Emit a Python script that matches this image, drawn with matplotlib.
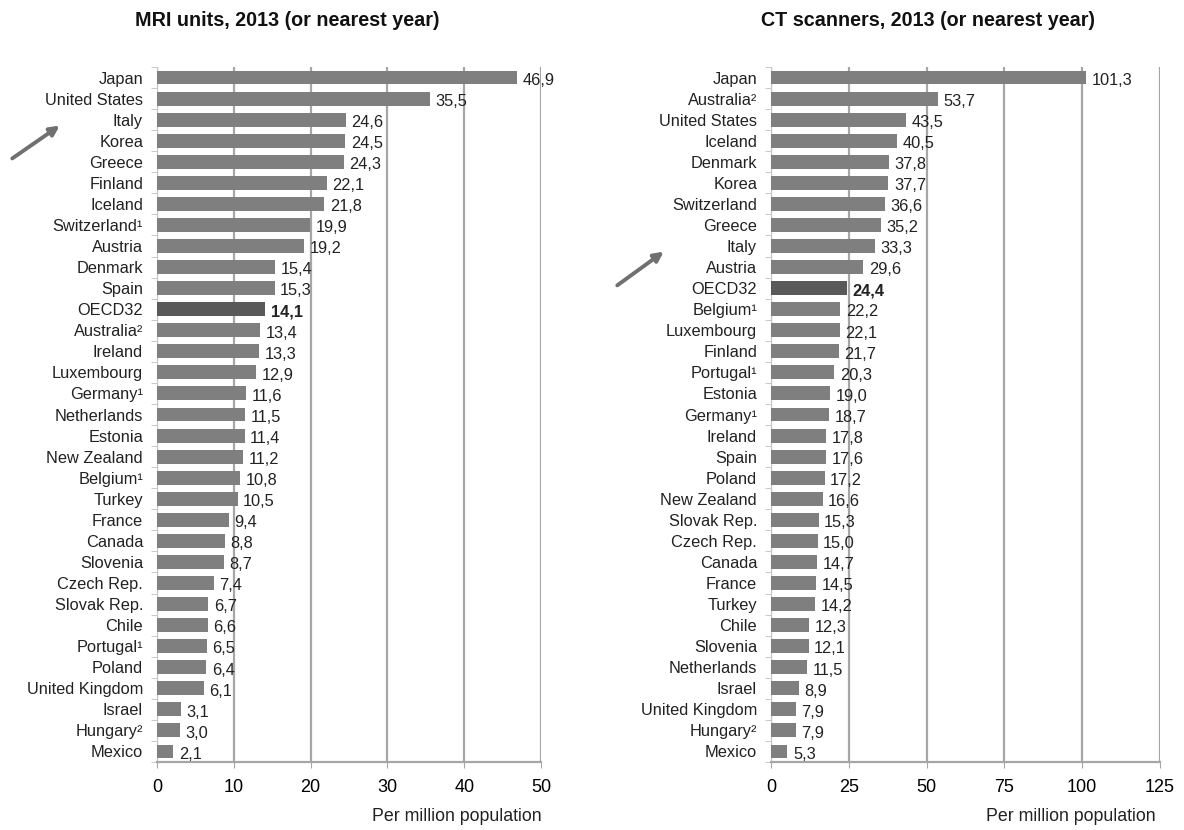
import matplotlib
matplotlib.use('Agg')
import matplotlib.pyplot as plt
from matplotlib.patches import FancyArrowPatch

plt.rcParams['font.family'] = ['Liberation Sans', 'DejaVu Sans']

# ======================
# Data
# ======================
mri_countries = ['Japan', 'United States', 'Italy', 'Korea', 'Greece', 'Finland', 'Iceland',
                 'Switzerland¹', 'Austria', 'Denmark', 'Spain', 'OECD32', 'Australia²', 'Ireland',
                 'Luxembourg', 'Germany¹', 'Netherlands', 'Estonia', 'New Zealand', 'Belgium¹',
                 'Turkey', 'France', 'Canada', 'Slovenia', 'Czech Rep.', 'Slovak Rep.', 'Chile',
                 'Portugal¹', 'Poland', 'United Kingdom', 'Israel', 'Hungary²', 'Mexico']
mri_values = [46.9, 35.5, 24.6, 24.5, 24.3, 22.1, 21.8, 19.9, 19.2, 15.4, 15.3, 14.1, 13.4, 13.3,
              12.9, 11.6, 11.5, 11.4, 11.2, 10.8, 10.5, 9.4, 8.8, 8.7, 7.4, 6.7, 6.6, 6.5, 6.4,
              6.1, 3.1, 3.0, 2.1]

ct_countries = ['Japan', 'Australia²', 'United States', 'Iceland', 'Denmark', 'Korea', 'Switzerland',
                'Greece', 'Italy', 'Austria', 'OECD32', 'Belgium¹', 'Luxembourg', 'Finland',
                'Portugal¹', 'Estonia', 'Germany¹', 'Ireland', 'Spain', 'Poland', 'New Zealand',
                'Slovak Rep.', 'Czech Rep.', 'Canada', 'France', 'Turkey', 'Chile', 'Slovenia',
                'Netherlands', 'Israel', 'United Kingdom', 'Hungary²', 'Mexico']
ct_values = [101.3, 53.7, 43.5, 40.5, 37.8, 37.7, 36.6, 35.2, 33.3, 29.6, 24.4, 22.2, 22.1, 21.7,
             20.3, 19.0, 18.7, 17.8, 17.6, 17.2, 16.6, 15.3, 15.0, 14.7, 14.5, 14.2, 12.3, 12.1,
             11.5, 8.9, 7.9, 7.9, 5.3]

mri_ticks = [0, 10, 20, 30, 40, 50]
ct_ticks = [0, 25, 50, 75, 100, 125]

bar_color = '#7f7f7f'
oecd_color = '#595959'
grid_color = '#a6a6a6'

fig = plt.figure(figsize=(11.84, 8.3), dpi=100)
ax1 = fig.add_axes([157 / 1184, 1 - 762 / 830, (541 - 157) / 1184, (762 - 67) / 830])
ax2 = fig.add_axes([771 / 1184, 1 - 762 / 830, (1160 - 771) / 1184, (762 - 67) / 830])


def draw_panel(ax, names, values, ticks, title_x, title, xlabel_x):
    y = list(range(len(names)))
    colors = [oecd_color if n == 'OECD32' else bar_color for n in names]
    ax.barh(y, values, height=0.66, color=colors, zorder=3)
    ax.set_ylim(len(names) - 0.5, -0.5)
    ax.set_xlim(ticks[0], ticks[-1])
    ax.set_xticks(ticks)
    ax.set_xticklabels([str(t) for t in ticks], fontsize=13)
    ax.set_yticks(y)
    ax.set_yticklabels(names, fontsize=11.8, color='#222222')
    ax.tick_params(axis='y', length=0, pad=10)
    ax.tick_params(axis='x', length=4, color=grid_color, pad=8)
    # small marks between categories on the value axis
    ax.set_yticks([i + 0.5 for i in range(-1, len(names))], minor=True)
    ax.tick_params(axis='y', which='minor', length=4, color='#c0c0c0', direction='out')
    ax.grid(axis='x', color=grid_color, linewidth=1.6, zorder=0)
    for s in ['top', 'right']:
        ax.spines[s].set_visible(False)
    ax.spines['left'].set_color('#c8c8c8')
    ax.spines['bottom'].set_color(grid_color)
    ax.spines['bottom'].set_linewidth(1.6)
    for i, (n, v) in enumerate(zip(names, values)):
        ax.annotate(f'{v:.1f}'.replace('.', ','), xy=(v, i), xytext=(4, -2),
                    textcoords='offset points', va='center', ha='left', fontsize=11.8,
                    fontweight='bold' if n == 'OECD32' else 'normal', color='#222222', zorder=4)
    fig.text(title_x / 1184, 1 - 20 / 830, title, ha='center', va='center',
             fontsize=14.2, fontweight='bold', color='#111111')
    fig.text(xlabel_x / 1184, 1 - 816 / 830, 'Per million population', ha='center',
             va='center', fontsize=12.8, color='#222222')


draw_panel(ax1, mri_countries, mri_values, mri_ticks, 287, 'MRI units, 2013 (or nearest year)', 457)
draw_panel(ax2, ct_countries, ct_values, ct_ticks, 928, 'CT scanners, 2013 (or nearest year)', 1071)

# arrows pointing at Italy
arrow_style = dict(arrowstyle='-|>', color='#707070', lw=2.8, mutation_scale=14)
fig.add_artist(FancyArrowPatch((10 / 1184, 1 - 160 / 830), (62 / 1184, 1 - 124 / 830),
                               transform=fig.transFigure, **arrow_style))
fig.add_artist(FancyArrowPatch((615 / 1184, 1 - 287 / 830), (666 / 1184, 1 - 250 / 830),
                               transform=fig.transFigure, **arrow_style))

plt.savefig('out.png', dpi=100)
